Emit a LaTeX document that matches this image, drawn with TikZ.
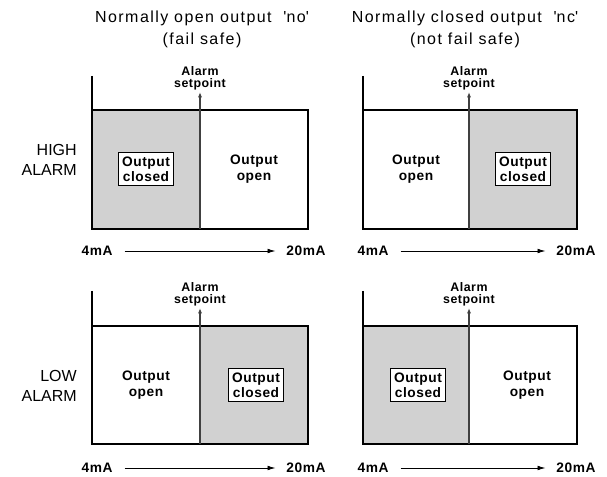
\documentclass[tikz,border=0pt]{standalone}
\usepackage{fontspec}
\setmainfont{Liberation Sans}[LetterSpace=4]
\usetikzlibrary{arrows.meta}

\tikzset{
  axis/.style={line width=2.2pt},
  region/.style={draw, line width=0.8pt},
  closed/.style={region, fill=black!18},
  setp/.style={line width=0.9pt, black!75, -{Latex[length=4pt,width=3pt]}},
  marrow/.style={line width=0.6pt, -{Latex[length=6pt,width=3.5pt]}, shorten <=9pt, shorten >=8pt},
  lbl/.style={font=\bfseries\fontsize{10.3}{11.5}\selectfont, align=center},
  inbox/.style={lbl, draw, line width=0.8pt, fill=white, inner sep=3pt},
  spt/.style={font=\bfseries\fontsize{9.3}{9.4}\selectfont, align=center, inner sep=1pt, anchor=south},
  ma/.style={font=\bfseries\fontsize{10.3}{11}\selectfont, inner sep=0pt},
  title/.style={font=\addfontfeature{LetterSpace=9}\fontsize{12}{16.5}\selectfont, align=center},
  side/.style={font=\addfontfeature{LetterSpace=0}\fontsize{12}{14.5}\selectfont, align=right, anchor=east, inner sep=0pt}
}

\begin{document}
\begin{tikzpicture}[x=0.75pt,y=-0.75pt]
\useasboundingbox (0,0) rectangle (607,477);
\node[title] (no) at (202,29) {Normally open output\ \ \textquotesingle no\textquotesingle\\(fail safe)};
\node[title] (nc) at (465,29) {Normally closed output\ \ \textquotesingle nc\textquotesingle\\(not fail safe)};
\node[side] (high) at (77,160) {HIGH\\ALARM};
\node[side] (low) at (77,386) {LOW\\ALARM};

% high alarm, normally open
\draw[closed] (92,110) rectangle (200,229);
\draw[region] (200,110) rectangle (308,229);
\coordinate (tl-top) at (92,76);
\coordinate (tl-o) at (92,229);
\coordinate (tl-end) at (308,229);
\coordinate (tl-sp) at (200,229);
\coordinate (tl-tip) at (200,92);
\draw[axis] (tl-top) -- (tl-o) -- (tl-end);
\draw[setp] (tl-sp) -- (tl-tip);
\node[spt] (tl-alarm) at (tl-tip) {Alarm\\setpoint};
\node[inbox] (tl-closed) at (146,169) {Output\\closed};
\node[lbl] (tl-open) at (254,169) {Output\\open};
\node[ma] (tl-4) at (97,251) {4mA};
\node[ma] (tl-20) at (306,251) {20mA};
\draw[marrow] (tl-4) -- (tl-20);

% high alarm, normally closed
\draw[region] (363,110) rectangle (469,229);
\draw[closed] (469,110) rectangle (577,229);
\coordinate (tr-top) at (363,76);
\coordinate (tr-o) at (363,229);
\coordinate (tr-end) at (577,229);
\coordinate (tr-sp) at (469,229);
\coordinate (tr-tip) at (469,92);
\draw[axis] (tr-top) -- (tr-o) -- (tr-end);
\draw[setp] (tr-sp) -- (tr-tip);
\node[spt] (tr-alarm) at (tr-tip) {Alarm\\setpoint};
\node[lbl] (tr-open) at (416,169) {Output\\open};
\node[inbox] (tr-closed) at (523,169) {Output\\closed};
\node[ma] (tr-4) at (373,251) {4mA};
\node[ma] (tr-20) at (576,251) {20mA};
\draw[marrow] (tr-4) -- (tr-20);

% low alarm, normally open
\draw[region] (92,326) rectangle (200,444);
\draw[closed] (200,326) rectangle (308,444);
\coordinate (bl-top) at (92,291);
\coordinate (bl-o) at (92,444);
\coordinate (bl-end) at (308,444);
\coordinate (bl-sp) at (200,444);
\coordinate (bl-tip) at (200,308);
\draw[axis] (bl-top) -- (bl-o) -- (bl-end);
\draw[setp] (bl-sp) -- (bl-tip);
\node[spt] (bl-alarm) at (bl-tip) {Alarm\\setpoint};
\node[lbl] (bl-open) at (146,385) {Output\\open};
\node[inbox] (bl-closed) at (256,385) {Output\\closed};
\node[ma] (bl-4) at (97,468) {4mA};
\node[ma] (bl-20) at (306,468) {20mA};
\draw[marrow] (bl-4) -- (bl-20);

% low alarm, normally closed
\draw[closed] (363,326) rectangle (469,444);
\draw[region] (469,326) rectangle (577,444);
\coordinate (br-top) at (363,291);
\coordinate (br-o) at (363,444);
\coordinate (br-end) at (577,444);
\coordinate (br-sp) at (469,444);
\coordinate (br-tip) at (469,308);
\draw[axis] (br-top) -- (br-o) -- (br-end);
\draw[setp] (br-sp) -- (br-tip);
\node[spt] (br-alarm) at (br-tip) {Alarm\\setpoint};
\node[inbox] (br-closed) at (418,385) {Output\\closed};
\node[lbl] (br-open) at (527,385) {Output\\open};
\node[ma] (br-4) at (373,468) {4mA};
\node[ma] (br-20) at (576,468) {20mA};
\draw[marrow] (br-4) -- (br-20);
\end{tikzpicture}
\end{document}
